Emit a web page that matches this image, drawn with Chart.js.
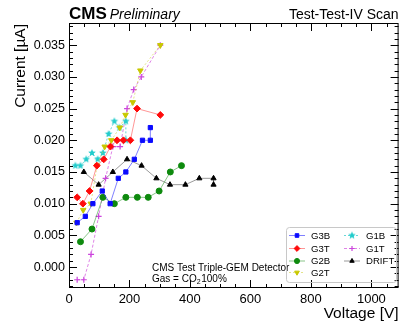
<!DOCTYPE html>
<html>
<head>
<meta charset="utf-8">
<script src="https://cdn.jsdelivr.net/npm/chart.js@4/dist/chart.umd.min.js"></script>
<style>
  html, body { margin: 0; padding: 0; background: #fff; }
  #wrap { width: 403px; height: 323px; }
</style>
</head>
<body>
<div id="wrap"><canvas id="c" width="403" height="323"></canvas></div>
<script>
'use strict';
// values (voltage in V, current in uA)
const g3bV = [27, 54, 79, 110, 136, 163, 188, 216, 243, 269, 269];
const g3bI = [0.007, 0.008, 0.010, 0.012, 0.010, 0.014, 0.015, 0.017, 0.020, 0.020, 0.022];
const g3tV = [27, 46, 68, 92, 115, 137, 159, 180, 203, 225, 302];
const g3tI = [0.011, 0.010, 0.012, 0.016, 0.017, 0.019, 0.020, 0.020, 0.020, 0.025, 0.024];
const g2bV = [38, 76, 112, 150, 188, 226, 262, 298, 335, 372];
const g2bI = [0.004, 0.006, 0.011, 0.010, 0.011, 0.011, 0.011, 0.012, 0.015, 0.016];
const g2tV = [25, 47, 72, 93, 118, 140, 168, 187, 211, 236, 302];
const g2tI = [0.007, 0.009, 0.010, 0.016, 0.019, 0.020, 0.022, 0.024, 0.026, 0.031, 0.035];
const g1bV = [21, 38, 57, 76, 95, 112, 131, 150, 167, 188, 188];
const g1bI = [0.016, 0.016, 0.017, 0.018, 0.017, 0.018, 0.021, 0.023, 0.022, 0.023, 0.020];
const g1tV = [27, 49, 73, 98, 121, 145, 169, 192, 214, 239, 302];
const g1tI = [-0.002, -0.002, 0.002, 0.008, 0.014, 0.019, 0.019, 0.025, 0.028, 0.030, 0.035];
const driftV = [49, 98, 145, 192, 240, 289, 334, 385, 431, 478, 478];
const driftI = [0.015, 0.013, 0.015, 0.017, 0.016, 0.014, 0.013, 0.013, 0.014, 0.014, 0.013];

const xTicks = [0, 200, 400, 600, 800, 1000];
const yTicks = [0, 0.005, 0.010, 0.015, 0.020, 0.025, 0.030, 0.035];

const FONT = '"Liberation Sans", Arial, Helvetica, sans-serif';

// filled five point star for G1B (canvas point style)
function makeStar(color, r) {
  const cv = document.createElement('canvas');
  const s = Math.ceil(r * 2 + 2);
  cv.width = s; cv.height = s;
  const c = cv.getContext('2d');
  c.fillStyle = color;
  c.beginPath();
  for (let i = 0; i < 10; i++) {
    const rad = i % 2 === 0 ? r : r * 0.45;
    const a = -Math.PI / 2 + i * Math.PI / 5;
    const px = s / 2 + rad * Math.cos(a), py = s / 2 + rad * Math.sin(a);
    if (i === 0) c.moveTo(px, py); else c.lineTo(px, py);
  }
  c.closePath();
  c.fill();
  return cv;
}
const starImg = makeStar('#22cccc', 4);

const pts = (vs, is) => vs.map((v, i) => ({ x: v, y: is[i] }));

function series(label, vs, is, color, line, style, extra) {
  return Object.assign({
    label, data: pts(vs, is), showLine: true,
    borderColor: line, borderWidth: 1,
    backgroundColor: color, pointBackgroundColor: color, pointBorderColor: color,
    pointStyle: style, pointRadius: 2.8, pointBorderWidth: 1, pointHoverRadius: 2.8,
  }, extra || {});
}

const datasets = [
  series('G3B', g3bV, g3bI, '#0a0aff', 'rgba(60,60,255,0.65)', 'rect', { pointRadius: 3 }),
  series('G3T', g3tV, g3tI, '#ff0a0a', 'rgba(255,80,80,0.6)', 'rectRot', { pointRadius: 3.4 }),
  series('G2B', g2bV, g2bI, '#0e8a0e', 'rgba(40,150,40,0.55)', 'circle', { pointRadius: 3 }),
  series('G2T', g2tV, g2tI, '#c8c800', 'rgba(210,210,60,0.6)', 'triangle', { pointRotation: 180, borderDash: [2, 2], pointRadius: 3.2 }),
  series('G1B', g1bV, g1bI, '#22cccc', 'rgba(40,200,200,0.7)', starImg, { borderDash: [2, 2] }),
  series('G1T', g1tV, g1tI, '#cc44dd', 'rgba(210,80,220,0.7)', 'cross', { borderDash: [3, 2], pointBorderWidth: 1.2, pointRadius: 3 }),
  series('DRIFT', driftV, driftI, '#000000', 'rgba(120,120,120,0.75)', 'triangle', { pointRadius: 3 }),
];

const frame = {
  id: 'frame',
  afterDraw(chart) {
    const ctx = chart.ctx, a = chart.chartArea;
    const xs = chart.scales.x, ys = chart.scales.y;
    ctx.save();
    ctx.strokeStyle = '#000';
    ctx.lineWidth = 1;
    ctx.strokeRect(a.left + 0.5, a.top + 0.5, a.right - a.left - 1, a.bottom - a.top - 1);
    ctx.beginPath();
    // x ticks, bottom and top, pointing inward
    for (let v = 0; v <= xs.max; v += 50) {
      const px = Math.round(xs.getPixelForValue(v)) + 0.5;
      const len = v % 200 === 0 ? 8 : 4;
      ctx.moveTo(px, a.bottom); ctx.lineTo(px, a.bottom - len);
      ctx.moveTo(px, a.top); ctx.lineTo(px, a.top + len);
    }
    // y ticks, left and right
    for (let k = -3; k <= 38; k++) {
      const v = k / 1000;
      if (v < ys.min || v > ys.max) continue;
      const py = Math.round(ys.getPixelForValue(v)) + 0.5;
      const len = k % 5 === 0 ? 8 : 4;
      ctx.moveTo(a.left, py); ctx.lineTo(a.left + len, py);
      ctx.moveTo(a.right, py); ctx.lineTo(a.right - len, py);
    }
    ctx.stroke();

    ctx.fillStyle = '#000';
    // header
    ctx.textBaseline = 'alphabetic';
    ctx.textAlign = 'left';
    ctx.font = 'bold 17px ' + FONT;
    ctx.fillText('CMS', a.left, 19);
    const w = ctx.measureText('CMS').width;
    ctx.font = 'italic 14px ' + FONT;
    ctx.fillText('Preliminary', a.left + w + 3, 19);
    ctx.textAlign = 'right';
    ctx.font = '14px ' + FONT;
    ctx.fillText('Test-Test-IV Scan', a.right, 19);

    // axis titles
    ctx.font = '15.5px ' + FONT;
    ctx.textAlign = 'right';
    ctx.fillText('Voltage [V]', a.right, 318);
    ctx.save();
    ctx.translate(25, a.top + 1);
    ctx.rotate(-Math.PI / 2);
    ctx.fillText('Current [\u00b5A]', 0, 0);
    ctx.restore();

    // detector note
    ctx.textAlign = 'left';
    ctx.font = '10px ' + FONT;
    ctx.fillText('CMS Test Triple-GEM Detector', 152, 271);
    ctx.fillText('Gas = CO', 152, 282);
    const gw = ctx.measureText('Gas = CO').width;
    ctx.font = '7px ' + FONT;
    ctx.fillText('2', 152 + gw, 284);
    ctx.font = '10px ' + FONT;
    ctx.fillText('100%', 152 + gw + 4.5, 282);

    // legend box
    ctx.strokeStyle = '#c8c8c8';
    ctx.lineWidth = 1;
    ctx.beginPath();
    ctx.roundRect(286.5, 227.5, 110, 55, 3);
    ctx.stroke();
    const rows = [235.5, 248.5, 261, 272.5];
    const place = [[0, 0], [0, 1], [0, 2], [0, 3], [1, 0], [1, 1], [1, 2]];
    const order = ['G3B', 'G3T', 'G2B', 'G2T', 'G1B', 'G1T', 'DRIFT'];
    order.forEach((name, i) => {
      const ds = chart.data.datasets.find(d => d.label === name);
      const [col, row] = place[i];
      const mx = col === 0 ? 297 : 352;
      const my = rows[row];
      ctx.save();
      ctx.strokeStyle = ds.borderColor;
      ctx.lineWidth = 1;
      ctx.setLineDash(ds.borderDash || []);
      ctx.beginPath();
      ctx.moveTo(mx - 8, my); ctx.lineTo(mx + 8, my);
      ctx.stroke();
      ctx.setLineDash([]);
      ctx.fillStyle = ds.pointBackgroundColor;
      ctx.strokeStyle = ds.pointBorderColor;
      ctx.lineWidth = ds.pointBorderWidth;
      Chart.helpers.drawPoint(ctx, {
        pointStyle: ds.pointStyle, rotation: ds.pointRotation || 0,
        radius: ds.pointRadius * 0.85, borderWidth: ds.pointBorderWidth,
      }, mx, my);
      ctx.restore();
      ctx.fillStyle = '#000';
      ctx.font = '9.6px ' + FONT;
      ctx.textAlign = 'left';
      ctx.textBaseline = 'middle';
      ctx.fillText(name, mx + 14, my + 0.5);
    });
    ctx.restore();
  }
};

new Chart(document.getElementById('c'), {
  type: 'scatter',
  data: { datasets },
  options: {
    responsive: false,
    animation: false,
    events: [],
    layout: { padding: { top: 23, right: 3, left: 0, bottom: 0 } },
    plugins: { legend: { display: false }, tooltip: { enabled: false } },
    scales: {
      x: {
        type: 'linear', min: 0, max: 1090,
        grid: { display: false, drawTicks: false },
        border: { display: false },
        afterBuildTicks: s => { s.ticks = xTicks.map(v => ({ value: v })); },
        afterFit: s => { s.height = 35; },
        ticks: { color: '#000', padding: 4, maxRotation: 0, font: { family: FONT, size: 13 }, callback: v => String(v) },
      },
      y: {
        type: 'linear', min: -0.0033, max: 0.0385,
        grid: { display: false, drawTicks: false },
        border: { display: false },
        afterBuildTicks: s => { s.ticks = yTicks.map(v => ({ value: v })); },
        afterFit: s => { s.width = 69; },
        ticks: { color: '#000', padding: 4, font: { family: FONT, size: 12.5 }, callback: v => v.toFixed(3) },
      },
    },
  },
  plugins: [frame],
});
</script>
</body>
</html>
